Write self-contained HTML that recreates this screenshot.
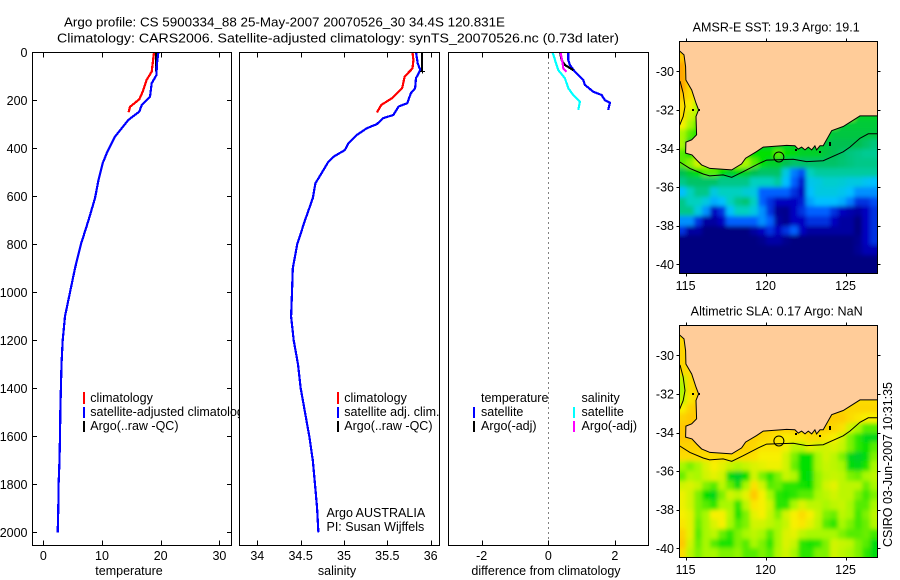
<!DOCTYPE html>
<html lang="en">
<head>
<meta charset="utf-8">
<title>Argo profile</title>
<style>
html,body{margin:0;padding:0;background:#fff}
svg{display:block}
text{font-family:"Liberation Sans",sans-serif;font-size:12.5px;fill:#000}
.crisp{shape-rendering:crispEdges}
</style>
</head>
<body>
<svg id="chart" width="900" height="580" viewBox="0 0 900 580" xmlns="http://www.w3.org/2000/svg">
<defs>
<clipPath id="clip-sst"><rect x="679.5" y="41.5" width="198" height="232"/></clipPath>
<clipPath id="clip-sla"><rect x="679.5" y="325.5" width="198" height="232"/></clipPath>
<clipPath id="clip-legend"><rect x="32" y="380" width="207.5" height="60"/></clipPath>
<filter id="soften" filterUnits="userSpaceOnUse" x="640" y="0" width="260" height="580"><feGaussianBlur stdDeviation="2.2"/></filter>
</defs>
<rect x="0" y="0" width="900" height="580" fill="#fff"/>
<text x="64" y="26.5" textLength="441" lengthAdjust="spacingAndGlyphs">Argo profile: CS 5900334_88 25-May-2007 20070526_30 34.4S 120.831E</text>
<text x="57" y="42.5" textLength="562" lengthAdjust="spacingAndGlyphs">Climatology: CARS2006. Satellite-adjusted climatology: synTS_20070526.nc (0.73d later)</text>

<g id="panel-temp"></g>
<g id="panel-sal"></g>
<g id="panel-diff"></g>

<g clip-path="url(#clip-legend)">
<rect class="crisp" x="83" y="392" width="2" height="12" fill="#f00"/>
<rect class="crisp" x="83" y="407" width="2" height="11" fill="#00f"/>
<rect class="crisp" x="83" y="421" width="2" height="11" fill="#000"/>
<text x="90.3" y="402">climatology</text>
<text x="90.3" y="416">satellite-adjusted climatology</text>
<text x="90.3" y="430">Argo(..raw -QC)</text>
</g>
<g>
<rect class="crisp" x="337" y="392" width="2" height="12" fill="#f00"/>
<rect class="crisp" x="337" y="407" width="2" height="11" fill="#00f"/>
<rect class="crisp" x="337" y="421" width="2" height="11" fill="#000"/>
<text x="344.3" y="402">climatology</text>
<text x="344.3" y="416">satellite adj. clim.</text>
<text x="344.3" y="430">Argo(..raw -QC)</text>
<text x="326.5" y="517">Argo AUSTRALIA</text>
<text x="326.5" y="531">PI: Susan Wijffels</text>
</g>
<g>
<text x="481" y="402">temperature</text>
<text x="581.5" y="402">salinity</text>
<rect class="crisp" x="473" y="407" width="2" height="11" fill="#00f"/>
<rect class="crisp" x="473" y="421" width="2" height="11" fill="#000"/>
<rect class="crisp" x="573" y="407" width="2" height="11" fill="#0ff"/>
<rect class="crisp" x="573" y="421" width="2" height="11" fill="#f0f"/>
<text x="481" y="416">satellite</text>
<text x="481" y="430">Argo(-adj)</text>
<text x="581.5" y="416">satellite</text>
<text x="581.5" y="430">Argo(-adj)</text>
</g>

<text x="129" y="575" text-anchor="middle">temperature</text>
<text x="337" y="575" text-anchor="middle">salinity</text>
<text x="546" y="575" text-anchor="middle">difference from climatology</text>

<g id="map-sst"></g>
<g id="map-sla"></g>
<text x="692.7" y="31.7" textLength="167" lengthAdjust="spacingAndGlyphs">AMSR-E SST: 19.3 Argo: 19.1</text>
<text x="690.7" y="315.7" textLength="172" lengthAdjust="spacingAndGlyphs">Altimetric SLA: 0.17 Argo: NaN</text>
<text x="892" y="547" transform="rotate(-90 892 547)" textLength="165" lengthAdjust="spacingAndGlyphs">CSIRO 03-Jun-2007 10:31:35</text>
</svg>

<script>
const _ = null;

/* ---------- profile data ---------- */
const depthTicks = [0,200,400,600,800,1000,1200,1400,1600,1800,2000];
const tempTicks = [0,10,20,30];
const salTicks = [34,34.5,35,35.5,36];
const diffTicks = [-2,0,2];

const tempClimDepth = [0,46,81,115,164,196,227,250];
const tempClimValue = [18.86,18.63,18.46,17.6,16.93,16.36,14.77,14.54];
const tempSatDepth = [0,46,95,129,185,220,247,282,352,421,463,532,608,700,800,900,1000,1100,1200,1300,1400,1500,1600,1700,1800,1900,2000];
const tempSatValue = [19.6,19.37,19.26,18.46,18.18,16.76,16.36,14.48,12.2,10.8,10.1,9.4,8.8,7.7,6.4,5.4,4.55,3.7,3.3,3.1,3.0,2.9,2.85,2.76,2.6,2.55,2.45];
const tempArgoDepth = [0,40,80];
const tempArgoValue = [19.2,19.25,19.2];

const salClimDepth = [0,32,67,101,150,192,219,251];
const salClimValue = [35.79,35.8,35.79,35.7,35.67,35.55,35.43,35.38];
const salSatDepth = [0,46,74,108,150,171,212,226,261,275,299,317,344,379,407,435,456,504,546,608,700,800,900,1000,1100,1200,1300,1400,1500,1600,1700,1800,1900,2000];
const salSatValue = [35.83,35.85,35.88,35.83,35.82,35.77,35.73,35.63,35.57,35.45,35.38,35.26,35.15,35.05,35.01,34.88,34.82,34.74,34.67,34.64,34.55,34.46,34.41,34.4,34.39,34.42,34.47,34.5,34.55,34.6,34.64,34.665,34.69,34.705];
const salArgoDepth = [0,80];
const salArgoValue = [35.9,35.9];

const diffTempSatDepth = [0,32,53,81,115,136,164,178,199,210,240];
const diffTempSatValue = [0.6,0.6,0.65,0.8,1.05,1.1,1.35,1.6,1.7,1.85,1.8];
const diffSalSatDepth = [0,32,74,108,150,178,206,240];
const diffSalSatValue = [0.13,0.2,0.3,0.5,0.6,0.75,0.95,0.9];
const diffTempArgoDepth = [0,32,53,74];
const diffTempArgoValue = [0.35,0.4,0.5,0.75];
const diffSalArgoDepth = [0,46,67,81];
const diffSalArgoValue = [0.37,0.43,0.45,0.55];

/* ---------- map data ---------- */
const lonTicks = [115,120,125];
const latTicks = [-30,-32,-34,-36,-38,-40];
const cmapColours = ['#000080','#0000c0','#0060ff','#00c0ff','#00d0c0','#00c050','#00e000','#a8f800','#f8f000','#ffc800','#ff8000'];

/* SST (deg C) - rows north to south, 0.5 degree cells from 114.5E, -28.5S */
const sstRows = [
[23],
[23],
[23.5,22.5],
[23.5,22.5],
[23.5,22.5,22],
[23,22.5,22],
[22.5,22,21,20.5],
[22.5,21.5,21,_,_,_,_,_,_,_,_,_,_,_,_,_,_,_,_,_,_,_,19.5,19.5,19.5],
[22,21,20.5,_,_,_,_,_,_,_,_,_,_,_,_,_,_,_,_,_,19.3,19.3,19.3,19.3,19.3],
[21,20.5,20,_,_,_,_,_,_,_,_,_,_,_,_,_,_,_,_,19.2,19.2,19.2,19.2,19.2,19.2],
[21,19.5,_,_,_,_,_,_,_,_,19.5,19.5,19.5,19.5,19.5,19.5,19.5,19.5,19.2,19,19,19,19,18.8,18.6],
[20.5,20,21,_,_,_,_,_,20,20,20,20,20.5,20,19.8,19.5,19.5,19.5,19.2,19,18.8,18.6,18.5,18.4,18.4],
[20.5,20.8,21.5,21,20.5,20.5,20.5,21,21,20.5,20,19.5,19.5,19,18.8,18.8,18.8,18.8,18.8,18.8,18.7,18.6,18.5,18.5,18.5],
[19,19.5,20,20.5,20.5,20,19.5,19.8,19.5,19,18.8,18.8,18.8,17.5,16.3,15.8,18,18.3,18.3,18.3,18.3,18.3,18.3,18.3,18.3],
[18.5,18.8,18.8,18.8,18.8,18.5,18.5,18.5,18.5,18,18,18,18.3,17,16,15.2,17.3,17.5,17.8,17.8,17.7,17.5,17.5,17.2,17],
[17,18,18.5,18.5,17.5,18,18,18,17.7,17.5,16,16,16,16,15.5,15,17,17.5,17.5,17.5,17.3,17,16.5,16.5,16.5],
[18.5,18,18,17.5,16.8,17,18,18.5,18.7,18,16,15.5,15,15,15,15.3,16.7,17,17,17,16.8,16.3,15.5,15.5,15.8],
[18.5,18.5,17.5,16.5,15,15.5,17,18,18,17.5,16.5,15.5,14.3,14.2,15,15.5,16,16,16,15.5,15,14.7,14.5,15,15.5],
[16.5,16.5,15.5,14.5,14.5,15,16,16,16,16,16.5,16,14.5,14.2,15,15,15.5,15.5,15.5,15,14.5,14.5,14,15,15.5],
[15.5,14.5,14.5,14,14,14,14,14,14,14.5,15,15.5,15,15.5,16,15,14.5,14.5,14.5,14.5,14.5,14.5,14,15,15.5],
[14,14,14,14,14,14,14,14,14,14,14.2,14.6,14.6,14.2,14,14,14,14,14,14,14,14,14.2,15,15.5],
[14,14,14,14,14,14,14,14,14,14,14,14,14,14,14,14,14,14,14,14,14,14,14.3,14.8,14.8],
[14,14,14,14,14,14,14,14,14,14,14,14,14,14,14,14,14,14,14,14,14,14,14,14,14],
[14,14,14,14,14,14,14,14,14,14,14,14,14,14,14,14,14,14,14,14,14,14,14,14,14]
];

/* SLA (cm) */
const slaRows = [
[24],
[25],
[26,24],
[26,24],
[25,24,24],
[14,24,26],
[12,24,26],
[14,22,26,_,_,_,_,_,_,_,_,_,_,_,_,_,_,_,_,_,_,_,24,24,24],
[20,26,28,_,_,_,_,_,_,_,_,_,_,_,_,_,_,_,_,_,25,25,25,25,25],
[26,28,28,_,_,_,_,_,_,_,_,_,_,_,_,_,_,_,_,27,27,24,22,20,20],
[28,28,_,_,_,_,_,_,_,_,26,26,26,26,26,26,26,26,26,25,23,16,12,8,8],
[28,28,28,_,_,_,_,_,26,26,25,24,22,21,22,22,24,24,22,20,16,10,6,2,2],
[26,26,26,26,27,27,27,27,26,25,22,22,22,19,14,14,18,16,16,17,15,10,6,4,8],
[24,24,24,24,24,24,24,24,24,23,20,20,20,16,10,4,4,12,16,14,10,2,0,3,10],
[12,10,12,17,20,18,15,13,15,17,18,19,19,16,9,4,4,12,15,14,12,3,2,5,12],
[9,13,12,16,18,16,3,0,4,16,10,6,10,15,13,4,3,11,14,15,14,10,9,12,14],
[16,17,15,10,8,14,9,3,12,23,16,8,9,6,6,5,4,11,16,18,14,14,14,9,12],
[19,16,10,4,2,10,16,14,18,28,20,12,6,5,6,8,8,12,14,16,14,14,10,7,10],
[19,16,10,8,6,12,12,6,14,22,20,16,6,6,12,17,14,14,12,14,15,12,8,8,12],
[20,18,10,12,20,20,13,5,10,18,20,15,10,16,20,24,20,15,10,9,14,12,7,10,14],
[22,18,9,12,17,20,12,8,10,16,16,14,12,15,20,22,18,14,8,6,12,10,7,9,13],
[26,18,8,12,14,9,6,10,12,14,12,8,12,17,18,14,12,12,12,12,10,8,8,9,7],
[28,16,9,12,8,5,5,10,8,12,10,6,12,17,15,6,5,6,10,16,15,14,10,8,3],
[24,14,10,12,12,10,10,11,8,8,10,8,13,16,12,6,6,10,10,16,14,12,10,6,3]
];

const coastLon = [114.6,114.9,115,115.02,115.38,115.65,115.81,115.65,115.69,115.38,115.02,115,115.4,115.7,116,116.52,117.88,118.5,118.75,119.44,119.85,121.31,121.83,122.04,122.25,122.46,122.67,122.88,123.08,123.19,123.4,123.6,124.13,124.85,125.9,127,127,114.6];
const coastLat = [-28.93,-29.15,-29.76,-30.45,-30.97,-31.65,-32,-32.34,-33.29,-33.55,-33.67,-34.24,-34.33,-34.6,-34.85,-35.03,-35.11,-34.8,-34.5,-34.16,-33.93,-33.84,-33.86,-34.03,-33.93,-34.07,-33.93,-34.07,-33.86,-34.07,-33.86,-33.86,-33.07,-32.86,-32.31,-32.31,-28.4,-28.4];
const shelfWestLon = [114.65,114.85,114.96,114.85,114.6];
const shelfWestLat = [-30.5,-31.13,-31.83,-32.34,-32.85];
const shelfSouthLon = [114.6,115.27,116.1,116.5,117.35,117.88,118.6,119.54,120.06,121.73,122.56,123.6,124.85,125.27,125.9,126.42,127];
const shelfSouthLat = [-34.68,-35.03,-35.32,-35.42,-35.37,-35.49,-35.2,-34.8,-34.6,-34.56,-34.68,-34.63,-34.17,-33.93,-33.47,-33.24,-33.24];
const speckLon = [115.82,115.45,121.9,123.4,124,124.05];
const speckLat = [-32,-32,-34.1,-34.2,-33.7,-33.8];
const argoLon = [120.83];
const argoLat = [-34.44];

/* ---------- axis functions ---------- */
const NS = 'http://www.w3.org/2000/svg';
function depthY(d){ return 52.3 + d * 0.24; }
function tempX(t){ return 43.3 + t * 5.87; }
function salX(s){ return 257.3 + (s - 34) * 86.7; }
function diffX(v){ return 548.3 + v * 33.3; }
function mapX(lon){ return 685.6 + (lon - 115) * 16; }
function mapY(lat, off){ return 71.3 + (-30 - lat) * 19.3 + off; }

function hex(c){ return [1,3,5].map(function(i){ return parseInt(c.substr(i,2),16); }); }
function cmap(t){
  t = Math.max(0, Math.min(1, t));
  const p = t * (cmapColours.length - 1);
  const i = Math.min(cmapColours.length - 2, Math.floor(p));
  const a = hex(cmapColours[i]), b = hex(cmapColours[i + 1]), f = p - i;
  return 'rgb(' + a.map(function(v, k){ return Math.round(v + (b[k] - v) * f); }).join(',') + ')';
}

function drawSeries(parent, xFn, depths, values, colour, name){
  const el = document.createElementNS(NS, 'polyline');
  
  
  el.setAttribute('points', values.map(function(v, i){ return xFn(v).toFixed(1) + ',' + depthY(depths[i]).toFixed(1); }).join(' '));
  el.setAttribute('fill', 'none');
  el.setAttribute('stroke', colour);
  el.setAttribute('stroke-width', '2.2');
  el.setAttribute('stroke-linejoin', 'round');
  el.setAttribute('shape-rendering', 'crispEdges');
  parent.appendChild(el);
  return el;
}

function drawLine(parent, x1, y1, x2, y2, name){
  const el = document.createElementNS(NS, 'line');
  
  
  el.setAttribute('x1', x1);
  el.setAttribute('y1', y1);
  el.setAttribute('x2', x2);
  el.setAttribute('y2', y2);
  el.setAttribute('stroke', '#000');
  el.setAttribute('stroke-width', '1');
  el.setAttribute('class', 'crisp');
  parent.appendChild(el);
  return el;
}

function drawLabel(parent, x, y, anchor, str, name){
  const el = document.createElementNS(NS, 'text');
  
  
  el.setAttribute('x', x);
  el.setAttribute('y', y);
  el.setAttribute('text-anchor', anchor);
  el.textContent = str;
  parent.appendChild(el);
  return el;
}

function drawFrame(parent, x, y, w, h, name){
  const el = document.createElementNS(NS, 'rect');
  
  
  el.setAttribute('x', x);
  el.setAttribute('y', y);
  el.setAttribute('width', w);
  el.setAttribute('height', h);
  el.setAttribute('fill', 'none');
  el.setAttribute('stroke', '#000');
  el.setAttribute('stroke-width', '1');
  el.setAttribute('class', 'crisp');
  parent.appendChild(el);
  return el;
}

const PT = 52.5, PB = 545.5;

function drawPanel(id, left, right, ticks, xFn, labelFn, showDepth){
  const g = document.getElementById(id);
  const bg = document.createElementNS(NS, 'rect');
  
  
  bg.setAttribute('x', left);
  bg.setAttribute('y', PT);
  bg.setAttribute('width', right - left);
  bg.setAttribute('height', PB - PT);
  bg.setAttribute('fill', '#fff');
  g.appendChild(bg);
  ticks.forEach(function(t){
    const x = Math.round(xFn(t)) + 0.5;
    drawLine(g, x, PB, x, PB - 5, 'x-tick-bottom');
    drawLine(g, x, PT, x, PT + 5, 'x-tick-top');
    drawLabel(g, xFn(t), 560, 'middle', labelFn(t), 'x-tick-label');
  });
  if (showDepth) {
    depthTicks.forEach(function(d){
      const y = Math.round(depthY(d)) + 0.5;
      drawLine(g, left, y, left + 4.5, y, 'y-tick-left');
      drawLine(g, right, y, right - 4.5, y, 'y-tick-right');
      drawLabel(g, 27.5, depthY(d) + 4.5, 'end', String(d), 'y-tick-label');
    });
  }
  return g;
}

/* temperature */
const gT = drawPanel('panel-temp', 32.5, 231.5, tempTicks, tempX, String, true);
drawSeries(gT, tempX, tempArgoDepth, tempArgoValue, '#000', 'temperature-argo-line');
drawSeries(gT, tempX, tempClimDepth, tempClimValue, '#f00', 'temperature-climatology-line');
drawSeries(gT, tempX, tempSatDepth, tempSatValue, '#00f', 'temperature-satellite-line');
drawFrame(gT, 32.5, PT, 199, PB - PT, 'temperature-axes-box');

/* salinity */
const gS = drawPanel('panel-sal', 239.5, 439.5, salTicks, salX, String, false);
drawSeries(gS, salX, salClimDepth, salClimValue, '#f00', 'salinity-climatology-line');
drawSeries(gS, salX, salSatDepth, salSatValue, '#00f', 'salinity-satellite-line');
drawSeries(gS, salX, salArgoDepth, salArgoValue, '#000', 'salinity-argo-line');
const lastX = salX(salArgoValue[salArgoValue.length - 1]);
const lastY = depthY(salArgoDepth[salArgoDepth.length - 1]);
drawLine(gS, lastX - 2, lastY, lastX + 3, lastY, 'salinity-argo-end-marker');
drawLine(gS, lastX + 0.5, lastY - 2, lastX + 0.5, lastY + 2, 'salinity-argo-end-marker');
drawFrame(gS, 239.5, PT, 200, PB - PT, 'salinity-axes-box');

/* differences */
const gD = drawPanel('panel-diff', 448.5, 648.5, diffTicks, diffX, String, false);
const zero = document.createElementNS(NS, 'line');


zero.setAttribute('x1', Math.round(diffX(0)) + 0.5);
zero.setAttribute('x2', Math.round(diffX(0)) + 0.5);
zero.setAttribute('y1', PT);
zero.setAttribute('y2', PB);
zero.setAttribute('stroke', '#000');
zero.setAttribute('stroke-dasharray', '1 4');
zero.setAttribute('class', 'crisp');
gD.appendChild(zero);
drawSeries(gD, diffX, diffTempSatDepth, diffTempSatValue, '#00f', 'difference-temp-satellite-line');
drawSeries(gD, diffX, diffSalSatDepth, diffSalSatValue, '#0ff', 'difference-sal-satellite-line');
drawSeries(gD, diffX, diffTempArgoDepth, diffTempArgoValue, '#000', 'difference-temp-argo-line');
drawSeries(gD, diffX, diffSalArgoDepth, diffSalArgoValue, '#f0f', 'difference-sal-argo-line');
drawFrame(gD, 448.5, PT, 200, PB - PT, 'difference-axes-box');

/* maps */
function cellValue(row, c){
  if (row[c] !== undefined && row[c] !== null) return row[c];
  let k = Math.min(c, row.length - 1);
  while (k > 0 && row[k] === null) k--;
  return row[k];
}

function drawMap(id, rows, tFn, off, clipId, prefix){
  const g = document.getElementById(id);
  const clipper = document.createElementNS(NS, 'g');
  
  
  clipper.setAttribute('clip-path', 'url(#' + clipId + ')');
  g.appendChild(clipper);
  const cells = document.createElementNS(NS, 'g');
  
  
  cells.setAttribute('filter', 'url(#soften)');
  clipper.appendChild(cells);
  rows.forEach(function(row, r){
    const latN = -28.5 - r * 0.5;
    for (let c = 0; c < 25; c++) {
      const v = cellValue(row, c);
      const lonW = 114.5 + c * 0.5;
      let x0 = Math.round(mapX(lonW)), x1 = Math.round(mapX(lonW + 0.5));
      let y0 = Math.round(mapY(latN, off)), y1 = Math.round(mapY(latN - 0.5, off));
      if (c === 0) x0 -= 14;
      if (c === 24) x1 += 14;
      if (r === 0) y0 -= 14;
      if (r === rows.length - 1) y1 += 14;
      const cell = document.createElementNS(NS, 'rect');
      
      
      cell.setAttribute('x', x0);
      cell.setAttribute('y', y0);
      cell.setAttribute('width', x1 - x0);
      cell.setAttribute('height', y1 - y0);
      cell.setAttribute('fill', cmap(tFn(v)));
      cell.setAttribute('class', 'crisp');
      cells.appendChild(cell);
    }
  });
  const over = document.createElementNS(NS, 'g');
  
  
  over.setAttribute('clip-path', 'url(#' + clipId + ')');
  g.appendChild(over);

  const pts = function(lons, lats){
    return lons.map(function(l, i){ return mapX(l).toFixed(1) + ',' + mapY(lats[i], off).toFixed(1); }).join(' ');
  };
  const land = document.createElementNS(NS, 'polygon');
  
  
  land.setAttribute('points', pts(coastLon, coastLat));
  land.setAttribute('fill', '#ffcc99');
  land.setAttribute('stroke', '#000');
  land.setAttribute('stroke-width', '1');
  over.appendChild(land);

  [[shelfWestLon, shelfWestLat, 'west'], [shelfSouthLon, shelfSouthLat, 'south']].forEach(function(s){
    const line = document.createElementNS(NS, 'polyline');
    
    
    line.setAttribute('points', pts(s[0], s[1]));
    line.setAttribute('fill', 'none');
    line.setAttribute('stroke', '#000');
    line.setAttribute('stroke-width', '1');
    over.appendChild(line);
  });

  speckLon.forEach(function(l, i){
    const dot = document.createElementNS(NS, 'rect');
    
    
    dot.setAttribute('x', Math.round(mapX(l)) - 1);
    dot.setAttribute('y', Math.round(mapY(speckLat[i], off)) - 1);
    dot.setAttribute('width', '2');
    dot.setAttribute('height', '2');
    dot.setAttribute('fill', '#000');
    over.appendChild(dot);
  });

  const ring = document.createElementNS(NS, 'circle');
  
  
  ring.setAttribute('cx', mapX(argoLon[0]));
  ring.setAttribute('cy', mapY(argoLat[0], off));
  ring.setAttribute('r', '5');
  ring.setAttribute('fill', 'none');
  ring.setAttribute('stroke', '#000');
  ring.setAttribute('stroke-width', '1');
  over.appendChild(ring);

  const top = 41.5 + off, bottom = 273.5 + off;
  drawFrame(g, 679.5, top, 198, bottom - top, prefix + '-axes-box');
  lonTicks.forEach(function(l){
    const x = Math.round(mapX(l)) + 0.5;
    drawLine(g, x, top, x, top - 3, prefix + '-lon-tick-top');
    drawLine(g, x, bottom, x, bottom + 3, prefix + '-lon-tick-bottom');
    drawLabel(g, mapX(l), 290 + off, 'middle', String(l), prefix + '-lon-tick-label');
  });
  latTicks.forEach(function(l){
    const y = Math.round(mapY(l, off)) + 0.5;
    drawLine(g, 679.5, y, 676.5, y, prefix + '-lat-tick-left');
    drawLine(g, 877.5, y, 880.5, y, prefix + '-lat-tick-right');
    drawLabel(g, 674, mapY(l, off) + 4.5, 'end', String(l), prefix + '-lat-tick-label');
  });
}
drawMap('map-sst', sstRows, function(v){ return (v - 14) / 10; }, 0, 'clip-sst', 'sst');
drawMap('map-sla', slaRows, function(v){ return (v + 44) / 80; }, 284, 'clip-sla', 'sla');
</script>
</body>
</html>
